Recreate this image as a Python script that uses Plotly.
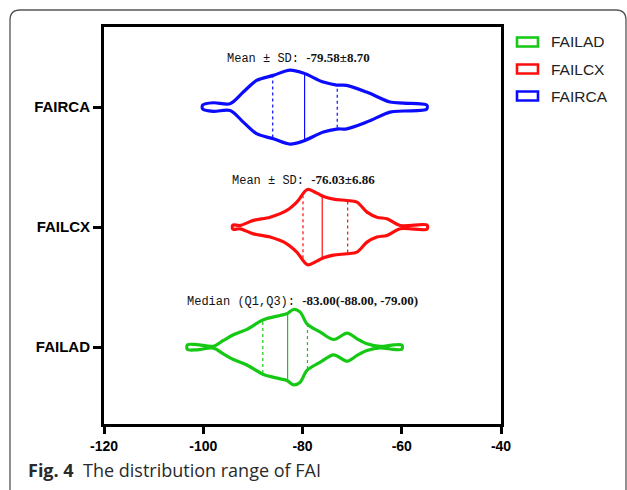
import numpy as np
import plotly.graph_objects as go

categories = ["FAILAD", "FAILCX", "FAIRCA"]
colors = ["#14c814", "#ff0d0d", "#0b0bff"]

# Violin outlines: FAI value and half-width (category units)
ad_x = [-103.2, -101.3, -97.96, -95.94, -93.92, -91.2, -87.87, -84.5, -83.15, -81.8,
        -80.47, -79.1, -76.4, -73.7, -71.0, -69.0, -67.0, -64.3, -61.6, -59.97]
ad_hw = [0.019, 0.022, 0.008, 0.056, 0.103, 0.148, 0.228, 0.264, 0.278, 0.314,
         0.292, 0.194, 0.125, 0.064, 0.117, 0.069, 0.028, 0.006, 0.019, 0.017]

cx_x = [-94.05, -92.57, -89.89, -86.52, -83.16, -81.15, -79.0, -77.1, -75.77, -73.75,
        -71.06, -69.04, -67.0, -65.0, -62.98, -60.3, -54.9]
cx_hw = [0.017, 0.014, 0.056, 0.083, 0.139, 0.208, 0.314, 0.283, 0.256, 0.233,
         0.222, 0.208, 0.125, 0.083, 0.069, 0.014, 0.017]

rca_x = [-100.11, -97.97, -94.6, -91.93, -89.24, -85.88, -82.52, -79.83, -75.8, -73.1,
         -71.1, -67.06, -62.37, -59.68, -54.97]
rca_hw = [0.017, 0.036, 0.028, 0.125, 0.222, 0.264, 0.308, 0.283, 0.208, 0.183,
          0.181, 0.125, 0.042, 0.033, 0.017]

# inner lines: (lower, centre, upper)
ad_lines = [-88.0, -83.0, -79.0]
cx_lines = [-79.9, -76.03, -70.9]
rca_lines = [-86.0, -79.58, -73.0]

labels_prefix = ["Median (Q1,Q3): ", "Mean \u00b1 SD: ", "Mean \u00b1 SD: "]
labels_value = ["-83.00(-88.00, -79.00)", "-76.03\u00b16.86", "-79.58\u00b18.70"]

outlines = [(ad_x, ad_hw), (cx_x, cx_hw), (rca_x, rca_hw)]
inner = [ad_lines, cx_lines, rca_lines]

fig = go.Figure()

for i, (xs, hws) in enumerate(outlines):
    top = [i + h for h in hws]
    bot = [i - h for h in hws[::-1]]
    px = list(xs) + list(xs[::-1]) + [xs[0]]
    py = top + bot + [top[0]]
    fig.add_trace(go.Scatter(
        x=px, y=py, mode="lines", fill="toself", fillcolor="rgba(255,255,255,0)",
        line=dict(color=colors[i], width=3.2, shape="spline", smoothing=0.9),
        showlegend=False, hoverinfo="skip", name=categories[i]))
    for j, lx in enumerate(inner[i]):
        h = float(np.interp(lx, xs, hws)) - 0.01
        fig.add_trace(go.Scatter(
            x=[lx, lx], y=[i - h, i + h], mode="lines",
            line=dict(color=colors[i], width=1.2, dash="solid" if j == 1 else "dot"),
            showlegend=False, hoverinfo="skip"))

# plot area in pixels
L, R, T, B = 104, 501, 27, 424
W, H = R - L, B - T


def px2x(p):
    return (p - L) / W


def px2y(p):
    return (B - p) / H


annotations = []
text_pos = [(302, 301), (303, 180), (298, 58)]
for i in range(3):
    tx, ty = text_pos[i]
    annotations.append(dict(
        xref="paper", yref="paper", x=px2x(tx), y=px2y(ty), xanchor="center", yanchor="middle",
        showarrow=False,
        text=("<span style=\"font-family:'Liberation Mono'\">" + labels_prefix[i] + "</span>"
              "<span style=\"font-family:'Liberation Serif';font-weight:bold;font-size:13px\">"
              + labels_value[i] + "</span>"),
        font=dict(size=12, color="#111111", family="Liberation Mono")))

# manual legend
shapes = []
leg_y = [42, 69, 96]
for i in range(3):
    shapes.append(dict(type="rect", xref="paper", yref="paper",
                       x0=px2x(517), x1=px2x(538), y0=px2y(leg_y[i] - 4.5), y1=px2y(leg_y[i] + 4.5),
                       line=dict(color=colors[i], width=2.6), fillcolor="rgba(0,0,0,0)"))
    annotations.append(dict(xref="paper", yref="paper", x=px2x(549), y=px2y(leg_y[i]),
                            xanchor="left", yanchor="middle", showarrow=False, text=categories[i],
                            font=dict(size=15.5, color="#222222", family="Liberation Sans, Arial")))

# figure frame (rounded box)
fx0, fy0, fx1, fy1, r = 10, 10, 626, 505, 10
path = (f"M {px2x(fx0)} {px2y(fy1)} L {px2x(fx0)} {px2y(fy0 + r)} "
        f"Q {px2x(fx0)} {px2y(fy0)} {px2x(fx0 + r)} {px2y(fy0)} "
        f"L {px2x(fx1 - r)} {px2y(fy0)} Q {px2x(fx1)} {px2y(fy0)} {px2x(fx1)} {px2y(fy0 + r)} "
        f"L {px2x(fx1)} {px2y(fy1)}")
shapes.append(dict(type="path", xref="paper", yref="paper", path=path,
                   line=dict(color="#555555", width=1.3)))

annotations.append(dict(xref="paper", yref="paper", x=px2x(26), y=px2y(470),
                        xanchor="left", yanchor="middle", showarrow=False,
                        text="<b>Fig. 4</b>\u00a0\u00a0The distribution range of FAI",
                        font=dict(size=18, color="#2a2a2a", family="Open Sans")))

x_ticks = [-120, -100, -80, -60, -40]

fig.update_layout(
    width=627, height=490,
    margin=dict(l=L, r=627 - R, t=T, b=490 - B),
    paper_bgcolor="white", plot_bgcolor="white",
    showlegend=False,
    xaxis=dict(range=[-120, -40], tickvals=x_ticks, ticktext=[str(v) for v in x_ticks],
               showline=True, linewidth=3, linecolor="black", mirror=True,
               ticks="outside", ticklen=7, tickwidth=3, tickcolor="black",
               showgrid=False, zeroline=False,
               tickfont=dict(family="Liberation Sans, Arial", size=14, color="black", weight="bold")),
    yaxis=dict(range=[-0.64, 2.667], tickvals=[0, 1, 2], ticktext=categories,
               showline=True, linewidth=3, linecolor="black", mirror=True,
               ticks="outside", ticklen=8, tickwidth=3, tickcolor="black",
               showgrid=False, zeroline=False,
               tickfont=dict(family="Liberation Sans, Arial", size=15, color="black", weight="bold")),
    shapes=shapes,
    annotations=annotations,
)

fig.write_html("out.html")
